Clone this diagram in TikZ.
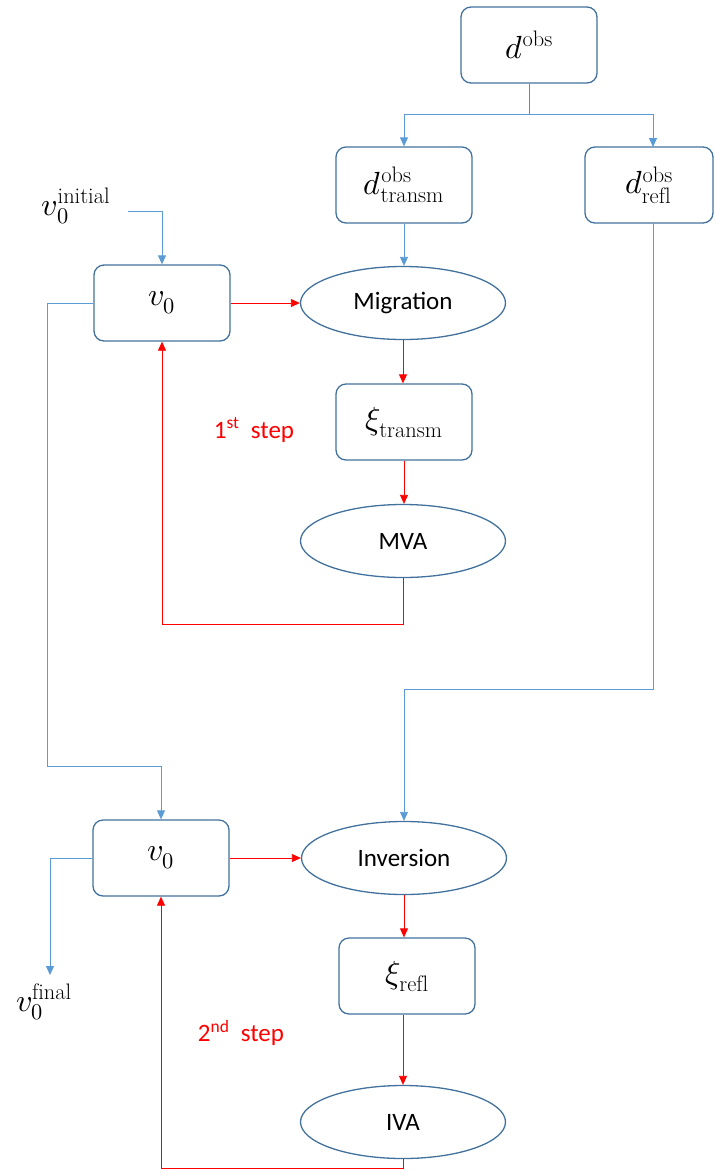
\documentclass[tikz,border=0pt]{standalone}
\usepackage{fontspec}
\usepackage{unicode-math}
\newfontfamily\calibri{Carlito}
\usetikzlibrary{shapes.geometric,arrows.meta}
\definecolor{boxblue}{HTML}{41719C}
\definecolor{lineblue}{HTML}{5B9BD5}
\definecolor{stepred}{HTML}{FF0000}
\tikzset{
  rbox/.style={draw=boxblue, line width=1.3pt, rounded corners=10pt, minimum width=136pt, minimum height=76pt, inner sep=0pt, font=\fontsize{32}{36}\selectfont},
  oval/.style={draw=boxblue, line width=1.3pt, ellipse, minimum width=205pt, minimum height=73pt, inner sep=0pt, font=\calibri\fontsize{25}{30}\selectfont},
  bl/.style={draw=lineblue, line width=0.8pt},
  rd/.style={draw=stepred, line width=0.8pt},
  tip/.style={-{Triangle[length=9pt,width=8pt]}},
  steplbl/.style={text=stepred, font=\calibri\fontsize{25}{30}\selectfont},
  freetext/.style={font=\fontsize{32}{36}\selectfont, inner sep=0pt}
}
\begin{document}
\begin{tikzpicture}[x=1pt,y=-1pt]
\useasboundingbox (0,0) rectangle (715,1171);
% nodes
\node[rbox] (dobs) at (529,45) {$d^{\mathrm{obs}}$};
\node[rbox] (dtr) at (404,185) {$d^{\mathrm{obs}}_{\mathrm{transm}}$};
\node[rbox, minimum width=128pt] (drf) at (649,185) {$d^{\mathrm{obs}}_{\mathrm{refl}}$};
\node[rbox] (v0a) at (162,303) {$v_0$};
\node[oval] (mig) at (403,303) {Migration};
\node[rbox] (xit) at (404,422) {$\xi_{\mathrm{transm}}$};
\node[oval] (mva) at (403,541) {MVA};
\node[rbox] (v0b) at (161,858) {$v_0$};
\node[oval] (inv) at (404,858) {Inversion};
\node[rbox] (xir) at (407,976) {$\xi_{\mathrm{refl}}$};
\node[oval] (iva) at (403,1122) {IVA};
\node[freetext] (vini) at (76,206) {$v_0^{\mathrm{initial}}$};
\node[freetext] (vfin) at (44,1002) {$v_0^{\mathrm{final}}$};
\node[steplbl] (s1) at (254,430) {1\textsuperscript{st}\ \ step};
\node[steplbl] (s2) at (241,1033) {2\textsuperscript{nd}\ \ step};
% coordinates
\coordinate (split) at (529,114);
\coordinate (iniend) at (128,211);
\coordinate (finend) at (50,975);
% blue connectors
\draw[bl, draw=gray!80!lineblue] (dobs.south) -- (split);
\draw[bl, tip] (split) -| (dtr.north);
\draw[bl, tip] (split) -| (653,147);
\draw[bl, tip] (dtr.south) -- (mig.north -| dtr.south);
\draw[bl, tip] (iniend) -| (v0a.north);
\draw[bl, tip] (v0a.west) -| (47,766) -| (v0b.north);
\draw[bl, tip] (653,223) -- (653,689) -| (inv.north);
\draw[bl, tip] (v0b.west) -| (finend);
% red connectors
\draw[rd, tip] (v0a.east) -- (mig.west);
\draw[rd, tip] (mig.south) -- (xit.north -| mig.south);
\draw[rd, tip] (xit.south) -- (mva.north -| xit.south);
\draw[rd, tip] (mva.south) -- (403,624) -| (v0a.south);
\draw[rd, tip] (v0b.east) -- (inv.west);
\draw[rd, tip] (inv.south) -- (inv.south |- xir.north);
\draw[rd, tip] (xir.south -| iva.north) -- (iva.north);
\draw[rd, tip] (iva.south) -- (403,1168) -| (v0b.south);
\end{tikzpicture}
\end{document}
